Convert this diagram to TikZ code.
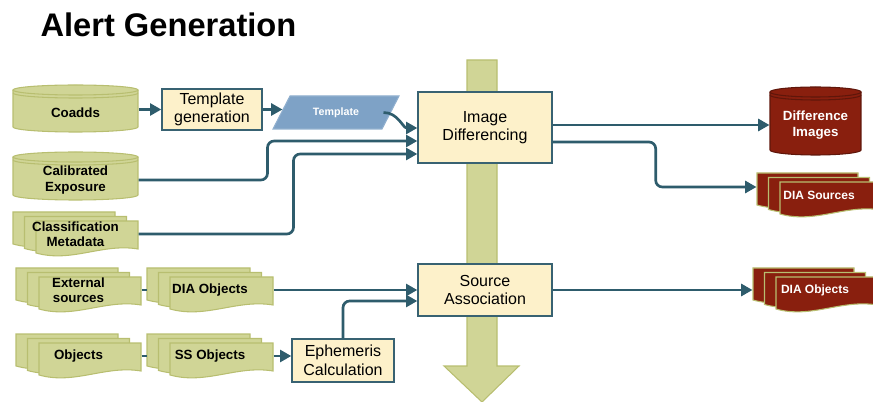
\documentclass[tikz,border=0pt]{standalone}
\usepackage{fontspec}
\setmainfont{Liberation Sans}
\usetikzlibrary{arrows.meta,calc}

\definecolor{docgreen}{RGB}{208,213,150}
\definecolor{docedge}{RGB}{184,190,112}
\definecolor{cream}{RGB}{253,241,202}
\definecolor{boxedge}{RGB}{56,98,114}
\definecolor{flowteal}{RGB}{46,92,108}
\definecolor{dbred}{RGB}{137,31,14}
\definecolor{dbrededge}{RGB}{95,22,10}
\definecolor{tmplblue}{RGB}{126,162,198}

\tikzset{every picture/.style={line width=0.75pt}}
\tikzset{
	procbox/.style={draw=boxedge, fill=cream, line width=1pt, inner sep=0pt, align=center, font=\fontsize{12}{14}\selectfont},
	storetext/.style={inner sep=0pt, align=center, font=\bfseries\fontsize{10}{11.5}\selectfont},
	outtext/.style={inner sep=0pt, align=center, text=white, font=\bfseries\fontsize{9}{10.5}\selectfont},
	greenstore/.style={fill=docgreen, draw=docedge, line width=0.8pt},
	redstore/.style={fill=dbred, draw=dbrededge, line width=0.8pt},
	reddoc/.style={fill=dbred, draw=docedge, line width=0.8pt},
	flow/.style={draw=flowteal, line width=2pt, rounded corners=5pt, -{Triangle[length=8.5pt,width=9pt]}},
	link/.style={draw=flowteal, line width=0.8pt}}

% can: name, x, y, width, height, shape style, text style, text
\newcommand{\drum}[8]{%
	\begin{scope}[shift={(#2,#3)}]
		\path[#6,draw=none] ({-#4/2},{-#5/2+5}) rectangle ({#4/2},{#5/2-5});
		\path[#6,draw=none] (0,{#5/2-5}) ellipse [x radius={#4/2}, y radius=5];
		\path[#6,fill=none] ({-#4/2},{-#5/2+5}) -- ({-#4/2},{#5/2-5}) arc [start angle=180, end angle=0, x radius={#4/2}, y radius=5] -- ({#4/2},{-#5/2+5});
		\path[#6] (0,{-#5/2+5}) ellipse [x radius={#4/2}, y radius=5];
		\path[#6,fill=none] ({-#4/2},{-#5/2+8}) arc [start angle=180, end angle=0, x radius={#4/2}, y radius=5];
	\end{scope}
	\node[#7, minimum width={#4*0.75pt}, minimum height={(#5-8)*0.75pt}] (#1) at (#2,{#3+4}) {#8};
}
% stacked pages: name, left, top, width, shape style, text style, text
\newcommand{\mdoc}[7]{%
	\foreach \k in {0,1,2}{%
		\path[#5, shift={(#2+\k*11.5,#3+\k*4.5)}] (0,0) -- ({#4-23},0) -- ({#4-23},28) .. controls ({(#4-23)*0.65},22) and ({(#4-23)*0.35},42) .. (0,32) -- cycle;
	}
	\node[#6, minimum width={#4*0.75pt}, minimum height={44*0.75pt}] (#1) at ({#2+#4/2},{#3+22}) {#7};
}

\begin{document}
\begin{tikzpicture}[x=0.75pt,y=0.75pt,yscale=-1,xscale=1]
	\useasboundingbox (0,0) rectangle (873,402);

	% Text Node
	\node[font=\bfseries\fontsize{24.5}{28}\selectfont, anchor=base west, inner sep=0pt] (title) at (40,36.5) {Alert Generation};

	%Shape: Big Arrow
	\path[fill=docgreen, draw=docedge, line width=0.8pt] (467,60) -- (497,60) -- (497,366) -- (519,366) -- (482,402) -- (444,366) -- (467,366) -- cycle;

	%Shape: Can
	\drum{coadds}{75.5}{108.5}{125}{47}{greenstore}{storetext}{Coadds}
	%Shape: Can
	\drum{calexp}{75.5}{176}{125}{48}{greenstore}{storetext}{Calibrated\\Exposure}
	%Shape: Can
	\drum{diffimg}{815.5}{121}{91}{68}{redstore}{storetext,text=white}{Difference\\Images}

	%Shape: Multidocument
	\mdoc{classif}{13}{212}{125}{greenstore}{storetext}{Classification\\Metadata}
	%Shape: Multidocument
	\mdoc{extsrc}{16}{268}{125}{greenstore}{storetext}{External\\sources}
	%Shape: Multidocument
	\mdoc{diaobj}{147}{268}{126}{greenstore}{storetext}{DIA Objects}
	%Shape: Multidocument
	\mdoc{objects}{16}{334}{125}{greenstore}{storetext}{Objects}
	%Shape: Multidocument
	\mdoc{ssobj}{147}{334}{126}{greenstore}{storetext}{SS Objects}
	%Shape: Multidocument
	\mdoc{diasrc}{757}{173}{124}{reddoc}{outtext}{DIA Sources}
	%Shape: Multidocument
	\mdoc{diaobjout}{753}{268}{124}{reddoc}{outtext}{DIA Objects}

	%Shape: Parallelogram
	\path[fill=tmplblue, draw=tmplblue!85!white, line width=0.8pt] (273,129) -- (290,96) -- (399,96) -- (382,129) -- cycle;
	% Text Node
	\node[font=\bfseries\fontsize{8}{9}\selectfont, text=white, inner sep=0pt, minimum width=106*0.75pt, minimum height=33*0.75pt] (tmpl) at (336,112.5) {Template};

	%Shape: Rectangle
	\node[procbox, minimum width=100*0.75pt, minimum height=41*0.75pt] (tmplgen) at (212,109.5) {Template\\generation};
	%Shape: Rectangle
	\node[procbox, minimum width=134*0.75pt, minimum height=71*0.75pt] (imgdiff) at (485,127.5) {Image\\Differencing};
	%Shape: Rectangle
	\node[procbox, minimum width=134*0.75pt, minimum height=52*0.75pt] (srcassoc) at (485,290) {Source\\Association};
	%Shape: Rectangle
	\node[procbox, minimum width=102*0.75pt, minimum height=43*0.75pt] (ephem) at (343,360.5) {Ephemeris\\Calculation};

	%Straight Lines
	\draw[flow] (tmplgen.west -| coadds.east) -- (tmplgen.west);
	\draw[flow] (tmplgen.east) -- (tmplgen.east -| tmpl.west);
	\draw[flow] ($(tmpl.east)+(-6,0)$) to[out=0,in=180] ($(imgdiff.west)+(0,0.5)$);
	\draw[flow] (calexp.east) -- ++(129,0) |- ($(imgdiff.west)+(0,13.5)$);
	\draw[flow] (classif.east) -- ++(155,0) |- ($(imgdiff.west)+(0,26.5)$);
	\draw[flow] ($(imgdiff.east)+(0,-2.5)$) coordinate (d1) -- (d1 -| diffimg.west);
	\draw[flow] ($(imgdiff.east)+(0,14.5)$) -- ++(103,0) |- ($(diasrc.west)+(0,-8)$);
	%Straight Lines
	\draw[link] (extsrc.east) -- (diaobj.west);
	\draw[link] (objects.east) -- (ssobj.west);
	\draw[flow] (diaobj.east) -- (diaobj.east -| srcassoc.west);
	\draw[flow] (ssobj.east) -- (ssobj.east -| ephem.west);
	\draw[flow] (ephem.north) |- ($(srcassoc.west)+(0,11)$);
	\draw[flow] (srcassoc.east) -- (srcassoc.east -| diaobjout.west);

\end{tikzpicture}
\end{document}
